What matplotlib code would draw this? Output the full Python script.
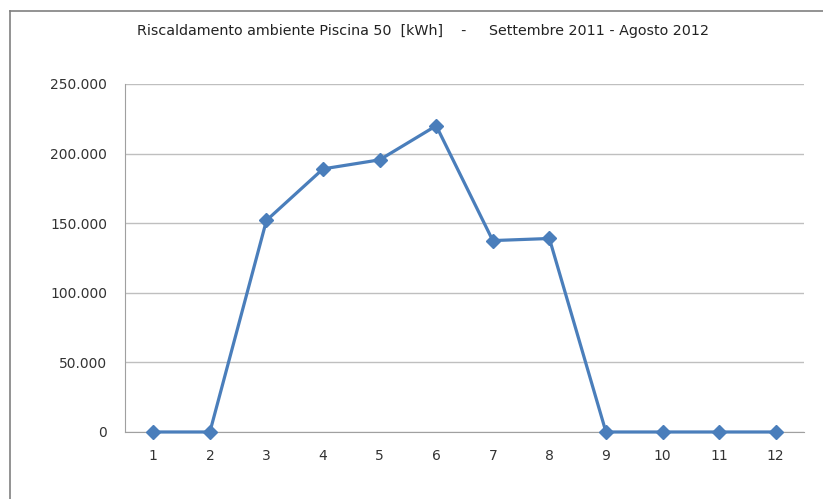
import matplotlib
matplotlib.use('Agg')
import matplotlib.pyplot as plt
from matplotlib.ticker import FuncFormatter

# monthly values, Sept 2011 - Aug 2012
months = [1, 2, 3, 4, 5, 6, 7, 8, 9, 10, 11, 12]
kwh = [0, 0, 152000, 189000, 195500, 220000, 137500, 139000, 0, 0, 0, 0]
yticks = [0, 50000, 100000, 150000, 200000, 250000]

title = 'Riscaldamento ambiente Piscina 50  [kWh]    -     Settembre 2011 - Agosto 2012'

fig = plt.figure(figsize=(8.23, 4.99), dpi=100)
ax = fig.add_axes([0.1519, 0.1343, 0.825, 0.6974])

ax.plot(months, kwh, color='#4a7ebb', linewidth=2.3, marker='D', markersize=6.8,
        zorder=3, clip_on=False)

ax.set_xlim(0.5, 12.5)
ax.set_ylim(0, 250000)
ax.set_xticks(months)
ax.set_yticks(yticks)
ax.yaxis.set_major_formatter(FuncFormatter(lambda v, p: f'{int(v):,}'.replace(',', '.')))
ax.grid(axis='y', color='#bfbfbf', linewidth=1)
ax.set_axisbelow(True)

for s in ['top', 'right']:
    ax.spines[s].set_visible(False)
for s in ['left', 'bottom']:
    ax.spines[s].set_color('#a0a0a0')
ax.tick_params(length=0, labelsize=10, colors='#333333')
ax.tick_params(axis='y', pad=13)
ax.tick_params(axis='x', pad=12)

fig.text(0.514, 0.938, title, ha='center', va='center', fontsize=10.3,
         family='Liberation Sans Narrow', color='#222222')

# outer chart border
fig.add_artist(plt.Line2D([0.012, 0.012], [0, 0.978], color='#808080', linewidth=1.2))
fig.add_artist(plt.Line2D([0.012, 1], [0.978, 0.978], color='#808080', linewidth=1.2))

fig.savefig('out.png', dpi=100)
